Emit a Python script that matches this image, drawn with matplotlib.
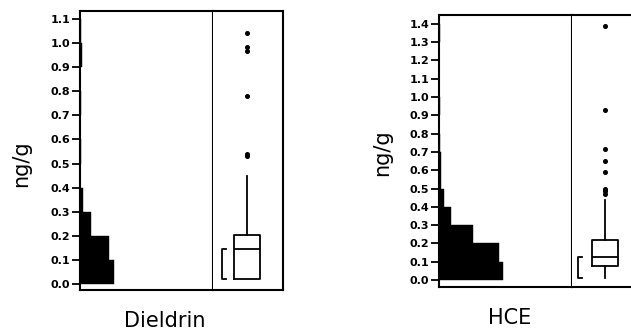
import matplotlib
matplotlib.use("Agg")
import matplotlib.pyplot as plt
import numpy as np

# ---- data ----
bin_width = 0.1
diel_counts = [34, 29, 11, 3, 0, 1, 0, 1, 0, 2, 1]
diel_ticks = [0.0, 0.1, 0.2, 0.3, 0.4, 0.5, 0.6, 0.7, 0.8, 0.9, 1.0, 1.1]
diel_box = dict(q1=0.02, med=0.145, q3=0.205, whislo=0.02, whishi=0.45,
                fliers=[1.04, 0.985, 0.965, 0.78, 0.54, 0.53])
diel_bracket = (0.02, 0.145)

hce_counts = [64, 60, 34, 12, 5, 2, 2, 1, 0, 1, 0, 0, 0, 1]
hce_ticks = [0.0, 0.1, 0.2, 0.3, 0.4, 0.5, 0.6, 0.7, 0.8, 0.9, 1.0, 1.1, 1.2, 1.3, 1.4]
hce_box = dict(q1=0.077, med=0.127, q3=0.22, whislo=0.01, whishi=0.44,
               fliers=[1.39, 0.93, 0.715, 0.65, 0.59, 0.50, 0.485, 0.47])
hce_bracket = (0.01, 0.127)

W, H = 631, 330
fig = plt.figure(figsize=(W / 100, H / 100), dpi=100)


def fr(x0, y0, x1, y1):
    return [x0 / W, 1 - y1 / H, (x1 - x0) / W, (y1 - y0) / H]


def panel(hrect, brect, counts, ticks, ylim, box, bracket, bx, bwid, brx):
    ah = fig.add_axes(hrect)
    ab = fig.add_axes(brect)
    edges = np.arange(len(counts)) * bin_width
    ah.barh(edges, counts, height=bin_width, align="edge", color="black",
            edgecolor="black", linewidth=0.3)
    ah.set_xlim(0, 133)
    ah.set_ylim(*ylim)
    ah.set_yticks(ticks)
    ah.set_yticklabels([f"{t:.1f}" for t in ticks], fontsize=8,
                       fontweight="bold")
    ah.set_xticks([])
    ah.tick_params(axis="y", length=6, width=1.3, pad=1)
    for s in ah.spines.values():
        s.set_linewidth(1.5)
    st = dict(box)
    st["label"] = ""
    ab.bxp([st], positions=[bx], widths=bwid, showfliers=True,
           boxprops=dict(linewidth=1.3, color="black"),
           medianprops=dict(linewidth=1.3, color="black"),
           whiskerprops=dict(linewidth=1.3, color="black"),
           capprops=dict(linewidth=0),
           flierprops=dict(marker="o", markersize=2.6, markerfacecolor="black",
                           markeredgecolor="black"))
    lo, hi = bracket
    ab.plot([brx + 0.06, brx, brx, brx + 0.06], [hi, hi, lo, lo],
            color="black", linewidth=1.3)
    ab.set_xlim(0, 1)
    ab.set_ylim(*ylim)
    ab.set_xticks([])
    ab.set_yticks([])
    ab.spines["left"].set_visible(False)
    for s in ab.spines.values():
        s.set_linewidth(1.5)
    return ah, ab


panel(fr(80, 11, 213, 290), fr(213, 11, 283, 290), diel_counts, diel_ticks,
      (-0.025, 1.133), diel_box, diel_bracket, 0.49, 0.37, 0.13)
panel(fr(439, 15, 572, 287), fr(572, 15, 642, 287), hce_counts, hce_ticks,
      (-0.038, 1.448), hce_box, hce_bracket, 0.47, 0.37, 0.086)

fig.text(21 / W, 1 - 164 / H, "ng/g", rotation=90, fontsize=15,
         ha="center", va="center")
fig.text(382 / W, 1 - 153 / H, "ng/g", rotation=90, fontsize=15,
         ha="center", va="center")
fig.text(165 / W, 1 - 321 / H, "Dieldrin", fontsize=15, ha="center",
         va="center")
fig.text(510 / W, 1 - 318 / H, "HCE", fontsize=15, ha="center", va="center")

fig.savefig("out.png", dpi=100)
